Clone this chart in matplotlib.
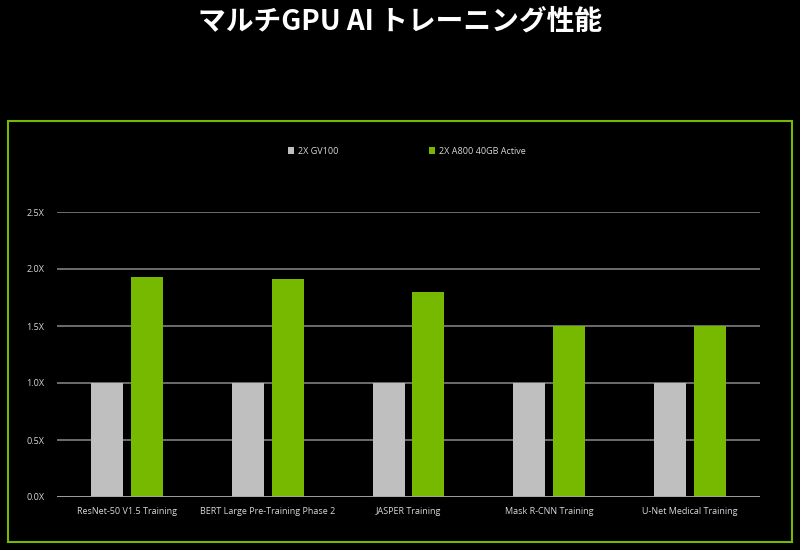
import matplotlib
matplotlib.use("Agg")
import matplotlib.pyplot as plt
from matplotlib.patches import Rectangle
import numpy as np

title = "マルチGPU AI トレーニング性能"
categories = ["ResNet-50 V1.5 Training", "BERT Large Pre-Training Phase 2",
              "JASPER Training", "Mask R-CNN Training", "U-Net Medical Training"]
series_names = ["2X GV100", "2X A800 40GB Active"]
gv100 = [1.0, 1.0, 1.0, 1.0, 1.0]
a800 = [1.93, 1.91, 1.80, 1.50, 1.50]
yticks = [0.0, 0.5, 1.0, 1.5, 2.0, 2.5]
ytick_labels = ["0.0X", "0.5X", "1.0X", "1.5X", "2.0X", "2.5X"]

GRAY = "#bfbfbf"
GREEN = "#76b900"
TXT = "#d9d9d9"
FONT = "Open Sans"
FS = 6.5

fig = plt.figure(figsize=(8, 5.5), dpi=100, facecolor="black")
W, H = 800, 550

# green frame
fig.patches.append(Rectangle((8 / W, 1 - 542 / H), (792 - 8) / W, (542 - 121) / H,
                             transform=fig.transFigure, fill=False,
                             edgecolor=GREEN, linewidth=1.5))

fig.text(0.5, 1 - 22 / H, title, ha="center", va="center", color="white",
         fontsize=20, fontweight="bold", family=["Noto Sans CJK JP", "DejaVu Sans"])

ax = fig.add_axes([57 / W, 1 - 497 / H, (760 - 57) / W, (497 - 212) / H])
ax.set_facecolor("black")
x = np.arange(len(categories))
off = 0.142
bw = 0.228
b1 = ax.bar(x - off, gv100, width=bw, color=GRAY, zorder=3, label=series_names[0])
b2 = ax.bar(x + off, a800, width=bw, color=GREEN, zorder=3, label=series_names[1])
ax.set_xlim(-0.5, len(categories) - 0.5)
ax.set_ylim(0, 2.5)
ax.set_yticks(yticks)
ax.set_yticklabels(ytick_labels)
ax.set_xticks(x)
ax.set_xticklabels(categories)
for s in ax.spines.values():
    s.set_visible(False)
ax.grid(axis="y", color="#7f7f7f", linewidth=1.2, zorder=0)
ax.axhline(0, color="#a6a6a6", linewidth=1.2, zorder=4)
ax.tick_params(axis="both", length=0, colors=TXT, labelsize=FS)
ax.tick_params(axis="y", pad=9)
ax.tick_params(axis="x", pad=7)
for lab in ax.get_xticklabels() + ax.get_yticklabels():
    lab.set_family(FONT)

leg = fig.legend(handles=[b1, b2], labels=series_names, loc="center left",
                 bbox_to_anchor=(288 / W, 1 - 151 / H), ncol=2, frameon=False,
                 borderpad=0, borderaxespad=0,
                 handlelength=0.7, handleheight=0.7,
                 columnspacing=10, handletextpad=0.4,
                 prop={"family": FONT, "size": FS})
for t in leg.get_texts():
    t.set_color(TXT)

fig.savefig("out.png", dpi=100, facecolor="black")
